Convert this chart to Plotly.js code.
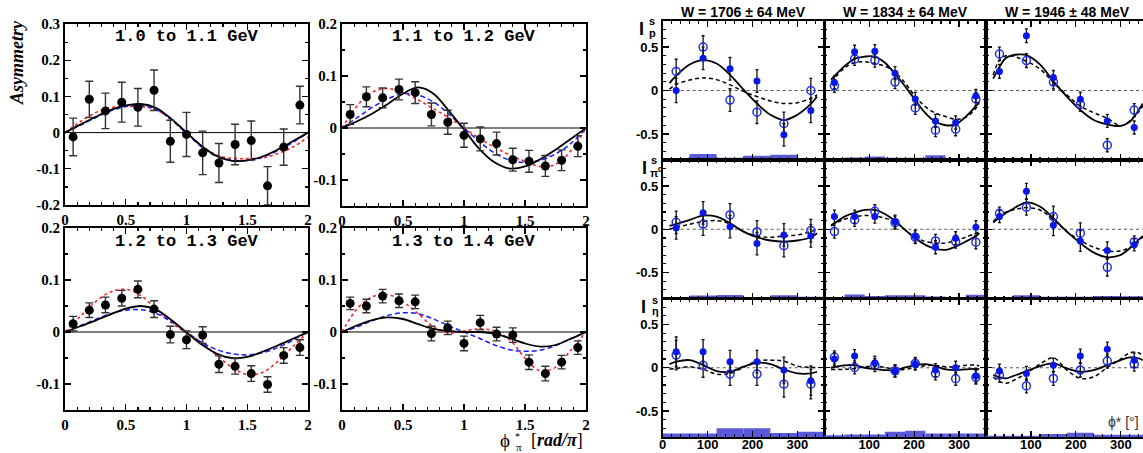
<!DOCTYPE html>
<html>
<head>
<meta charset="utf-8">
<script src="https://cdn.plot.ly/plotly-3.0.1.min.js"></script>
<style>
  html, body { margin: 0; padding: 0; background: #fff; }
  #chart { width: 1143px; height: 453px; }
</style>
</head>
<body>
<div id="chart"></div>
<script>
// ===== Left block: beam asymmetry vs phi*_pi, four energy bins =====
const energyLabels = ['1.0 to 1.1 GeV', '1.1 to 1.2 GeV', '1.2 to 1.3 GeV', '1.3 to 1.4 GeV'];
const phiPi = [0.067, 0.2, 0.333, 0.467, 0.6, 0.733, 0.867, 1.0, 1.133, 1.267, 1.4, 1.533, 1.667, 1.8, 1.933];

const asym1 = [-0.012, 0.092, 0.060, 0.084, 0.070, 0.117, -0.024, -0.005, -0.056, -0.084, -0.033, -0.022, -0.147, -0.040, 0.076];
const err1  = [0.052, 0.050, 0.049, 0.055, 0.052, 0.056, 0.058, 0.061, 0.060, 0.054, 0.056, 0.054, 0.053, 0.050, 0.052];
const asym2 = [0.026, 0.060, 0.058, 0.074, 0.068, 0.026, 0.011, -0.014, -0.021, -0.030, -0.061, -0.064, -0.073, -0.062, -0.035];
const err2  = [0.019, 0.019, 0.019, 0.020, 0.021, 0.022, 0.023, 0.023, 0.023, 0.022, 0.022, 0.021, 0.020, 0.020, 0.020];
const asym3 = [0.016, 0.042, 0.052, 0.065, 0.082, 0.044, -0.005, -0.015, -0.006, -0.062, -0.066, -0.080, -0.101, -0.045, -0.030];
const err3  = [0.014, 0.014, 0.015, 0.015, 0.016, 0.016, 0.016, 0.017, 0.016, 0.016, 0.015, 0.015, 0.015, 0.015, 0.015];
const asym4 = [0.055, 0.050, 0.069, 0.060, 0.058, -0.003, 0.008, -0.022, 0.018, -0.004, -0.006, -0.058, -0.080, -0.058, -0.030];
const err4  = [0.012, 0.013, 0.013, 0.013, 0.013, 0.014, 0.013, 0.014, 0.014, 0.013, 0.014, 0.014, 0.014, 0.013, 0.013];

// model curves, sampled on a common phi grid
const modelPhi = [0, 0.125, 0.25, 0.375, 0.5, 0.625, 0.75, 0.875, 1, 1.125, 1.25, 1.375, 1.5, 1.625, 1.75, 1.875, 2];
const solid1  = [0, 0.022, 0.043, 0.062, 0.075, 0.079, 0.068, 0.038, 0, -0.037, -0.065, -0.078, -0.077, -0.066, -0.047, -0.024, 0];
const dashed1 = [0, 0.020, 0.041, 0.060, 0.072, 0.075, 0.064, 0.035, -0.002, -0.040, -0.066, -0.076, -0.077, -0.068, -0.050, -0.027, 0];
const dotted1 = [0, 0.030, 0.055, 0.069, 0.072, 0.072, 0.063, 0.037, 0, -0.037, -0.062, -0.071, -0.072, -0.070, -0.058, -0.040, -0.012];
const solid2  = [0, 0.013, 0.028, 0.046, 0.066, 0.078, 0.066, 0.033, -0.003, -0.040, -0.066, -0.078, -0.074, -0.060, -0.042, -0.021, 0];
const dashed2 = [0, 0.020, 0.040, 0.056, 0.066, 0.063, 0.050, 0.027, 0, -0.026, -0.048, -0.062, -0.066, -0.062, -0.050, -0.030, 0];
const dotted2 = [0, 0.043, 0.069, 0.076, 0.068, 0.054, 0.037, 0.020, 0, -0.020, -0.037, -0.052, -0.064, -0.074, -0.070, -0.044, 0];
const solid3  = [0, 0.011, 0.022, 0.034, 0.045, 0.050, 0.043, 0.023, -0.001, -0.024, -0.042, -0.050, -0.048, -0.038, -0.026, -0.013, 0];
const dashed3 = [0, 0.012, 0.024, 0.035, 0.042, 0.043, 0.036, 0.020, 0, -0.020, -0.034, -0.042, -0.044, -0.040, -0.030, -0.016, 0];
const dotted3 = [0, 0.030, 0.058, 0.077, 0.082, 0.070, 0.044, 0.018, -0.002, -0.020, -0.045, -0.068, -0.082, -0.078, -0.057, -0.028, 0];
const solid4  = [0, 0.013, 0.023, 0.028, 0.025, 0.015, 0.006, 0.002, 0, 0, -0.003, -0.012, -0.022, -0.028, -0.025, -0.013, 0];
const dashed4 = [0, 0.010, 0.022, 0.032, 0.037, 0.035, 0.025, 0.012, 0, -0.012, -0.025, -0.034, -0.037, -0.035, -0.026, -0.013, 0];
const dotted4 = [0, 0.045, 0.068, 0.072, 0.058, 0.035, 0.010, -0.002, 0.002, 0.006, 0.002, -0.015, -0.050, -0.075, -0.068, -0.035, 0];

// ===== Right block: I^s for p, pi0 and eta in three W bins =====
const wLabels = ['W = 1706 \u00b1 64 MeV', 'W = 1834 \u00b1 64 MeV', 'W = 1946 \u00b1 48 MeV'];
const phi6 = [30, 90, 150, 210, 270, 330];
const phi8 = [22.5, 67.5, 112.5, 157.5, 202.5, 247.5, 292.5, 337.5];
const curvePhiA = [15, 30, 60, 90, 120, 150, 180, 210, 240, 270, 300, 330, 344];
const curvePhiB = [15, 45, 67.5, 90, 112.5, 135, 157.5, 180, 202.5, 225, 247.5, 270, 292.5, 315, 337.5, 345];
const curvePhiC = [16, 31, 45, 60, 75, 90, 120, 150, 180, 210, 240, 270, 300, 320, 340, 349];

// proton
const p1706Filled = [0.0, 0.37, 0.25, 0.11, -0.51, -0.23];
const p1706Open   = [0.22, 0.50, -0.11, -0.25, -0.38, 0.0];
const p1706Err    = [0.14, 0.13, 0.13, 0.13, 0.13, 0.14];
const p1706Solid  = [0.085, 0.17, 0.30, 0.35, 0.31, 0.18, 0.01, -0.15, -0.28, -0.34, -0.28, -0.155, -0.07];
const p1706Dashed = [0.015, 0.07, 0.12, 0.145, 0.125, 0.065, -0.01, -0.07, -0.12, -0.15, -0.14, -0.09, -0.05];
const p1706Sys    = [0.015, 0.07, 0.027, 0.05, 0.06, 0.023];

const p1834Filled = [0.093, 0.446, 0.453, 0.20, -0.097, -0.35, -0.368, -0.062];
const p1834Open   = [0.054, 0.364, 0.345, 0.097, -0.20, -0.457, -0.446, -0.097];
const p1834Err    = [0.075, 0.075, 0.075, 0.075, 0.075, 0.075, 0.075, 0.075];
const p1834Solid  = [0.124, 0.28, 0.364, 0.39, 0.39, 0.32, 0.19, 0.047, -0.11, -0.26, -0.36, -0.40, -0.39, -0.30, -0.18, -0.13];
const p1834Dashed = [0.093, 0.26, 0.32, 0.33, 0.31, 0.28, 0.21, 0.085, -0.07, -0.186, -0.26, -0.30, -0.33, -0.31, -0.205, -0.147];
const p1834Sys    = [0.015, 0.03, 0.04, 0.027, 0.027, 0.055, 0.015, 0.015];

const p1946Filled = [0.22, 0.63, 0.15, -0.10, -0.35, -0.426];
const p1946Open   = [0.42, 0.345, 0.097, -0.16, -0.63, -0.225];
const p1946Err    = [0.08, 0.08, 0.08, 0.08, 0.075, 0.075];
const p1946Solid  = [0.136, 0.28, 0.376, 0.407, 0.415, 0.407, 0.30, 0.105, -0.07, -0.225, -0.34, -0.39, -0.407, -0.36, -0.225, -0.15];
const p1946Dashed = [0.18, 0.357, 0.40, 0.395, 0.37, 0.337, 0.248, 0.093, -0.05, -0.178, -0.256, -0.32, -0.407, -0.35, -0.244, -0.178];
const p1946Sys    = [0.008, 0.008, 0.008, 0.008, 0.02, 0.008];

// pi0
const pi1706Filled = [0.015, 0.19, 0.03, -0.165, -0.065, -0.077];
const pi1706Open   = [0.08, 0.06, 0.165, -0.03, -0.19, -0.015];
const pi1706Err    = [0.13, 0.13, 0.13, 0.13, 0.13, 0.13];
const pi1706Solid  = [0.04, 0.06, 0.108, 0.158, 0.146, 0.07, -0.027, -0.092, -0.13, -0.142, -0.13, -0.092, -0.046];
const pi1706Dashed = [0.004, 0.02, 0.058, 0.088, 0.10, 0.062, -0.027, -0.077, -0.092, -0.077, -0.065, -0.027, -0.008];
const pi1706Sys    = [0.015, 0.035, 0.04, 0.012, 0.038, 0.02];

const pi1834Filled = [0.146, 0.146, 0.146, 0.088, -0.085, -0.208, -0.104, 0.023];
const pi1834Open   = [-0.027, 0.108, 0.208, 0.077, -0.092, -0.135, -0.142, -0.15];
const pi1834Err    = [0.075, 0.075, 0.075, 0.075, 0.075, 0.075, 0.075, 0.075];
const pi1834Solid  = [0.038, 0.146, 0.19, 0.223, 0.223, 0.177, 0.096, -0.008, -0.104, -0.18, -0.227, -0.238, -0.2, -0.142, -0.077, -0.046];
const pi1834Dashed = [0.05, 0.115, 0.146, 0.158, 0.154, 0.127, 0.088, -0.008, -0.092, -0.142, -0.16, -0.16, -0.13, -0.092, -0.046, -0.027];
const pi1834Sys    = [0.012, 0.045, 0.03, 0.038, 0.038, 0.023, 0.012, 0.042];

const pi1946Filled = [0.146, 0.44, 0.046, -0.135, -0.246, -0.18];
const pi1946Open   = [0.185, 0.254, 0.146, -0.046, -0.44, -0.146];
const pi1946Err    = [0.07, 0.09, 0.12, 0.12, 0.10, 0.07];
const pi1946Solid  = [0.077, 0.138, 0.19, 0.235, 0.28, 0.31, 0.262, 0.127, -0.027, -0.16, -0.27, -0.323, -0.296, -0.22, -0.12, -0.077];
const pi1946Dashed = [0.088, 0.165, 0.20, 0.223, 0.24, 0.25, 0.223, 0.108, -0.027, -0.13, -0.208, -0.25, -0.25, -0.21, -0.13, -0.092];
const pi1946Sys    = [0.012, 0.038, 0.02, 0.02, 0.03, 0.025];

// eta
const eta1706Filled = [0.185, 0.185, 0.07, 0.07, -0.027, -0.15];
const eta1706Open   = [0.146, 0.03, -0.073, -0.073, -0.19, -0.19];
const eta1706Err    = [0.17, 0.14, 0.13, 0.13, 0.15, 0.17];
const eta1706Solid  = [0.042, 0.07, 0.088, 0.03, -0.038, -0.046, 0.012, 0.058, 0.042, -0.019, -0.065, -0.065, -0.046];
const eta1706Dashed = [-0.015, -0.008, 0.012, -0.019, -0.073, -0.065, 0.004, 0.077, 0.088, 0.077, 0.019, 0.004, 0.004];
const eta1706Sys    = [0.04, 0.04, 0.10, 0.10, 0.047, 0.06];

const eta1834Filled = [0.10, 0.135, 0.058, -0.038, 0.042, -0.027, 0.0, -0.096];
const eta1834Open   = [0.12, 0.004, 0.03, -0.035, 0.05, -0.065, -0.127, -0.11];
const eta1834Err    = [0.075, 0.075, 0.075, 0.07, 0.07, 0.075, 0.075, 0.08];
const eta1834Solid  = [0, 0.027, 0.03, 0, -0.015, -0.027, -0.027, 0.004, 0.03, 0.042, 0.019, -0.019, -0.027, -0.019, -0.012, -0.015];
const eta1834Dashed = [-0.019, -0.019, -0.008, 0.012, 0.019, 0.004, -0.019, -0.019, 0.004, 0.023, 0.027, 0.012, 0.012, 0.03, 0.03, 0.019];
const eta1834Sys    = [0.02, 0.03, 0.03, 0.06, 0.073, 0.04, 0.04, 0.04];

const eta1946Filled = [-0.038, -0.065, 0.03, 0.135, 0.215, 0.088];
const eta1946Open   = [-0.085, -0.21, -0.123, -0.027, 0.077, 0.042];
const eta1946Err    = [0.08, 0.08, 0.08, 0.08, 0.08, 0.08];
const eta1946Solid  = [-0.085, -0.11, -0.123, -0.096, -0.07, -0.038, 0.019, 0.05, -0.008, -0.046, -0.027, 0.03, 0.088, 0.12, 0.108, 0.088];
const eta1946Dashed = [-0.11, -0.16, -0.18, -0.15, -0.11, -0.065, 0.042, 0.115, -0.027, -0.123, -0.104, 0.004, 0.10, 0.173, 0.173, 0.127];
const eta1946Sys    = [0.015, 0.015, 0.035, 0.05, 0.027, 0.027];

// ===== page geometry =====
const W = 1143, H = 453;
const fx = px => px / W;
const fy = py => 1 - py / H;

const traces = [];
const shapes = [];
const annotations = [];
const layout = {
  width: W, height: H,
  margin: { l: 0, r: 0, t: 0, b: 0 },
  paper_bgcolor: '#ffffff',
  plot_bgcolor: 'rgba(0,0,0,0)',
  showlegend: false,
  shapes: shapes,
  annotations: annotations
};

const serifBold = { family: 'Liberation Serif, Times New Roman, serif', size: 15, color: '#000', weight: 'bold' };
const sansBold = { family: 'Liberation Sans, Arial, sans-serif', size: 13, color: '#000', weight: 'bold' };

function baseAxis() {
  return {
    showline: true, linecolor: '#000', linewidth: 2, mirror: 'allticks',
    ticks: 'inside', tickcolor: '#000', tickwidth: 1.2,
    showgrid: false, zeroline: false, fixedrange: true
  };
}

function note(text, px, py, font, extra) {
  annotations.push(Object.assign({
    text: text, xref: 'paper', yref: 'paper', x: fx(px), y: fy(py),
    xanchor: 'center', yanchor: 'middle', showarrow: false, font: font
  }, extra || {}));
}

// ----- left block -----
const leftPanels = [
  { n: 1, box: [65, 308, 24, 205], range: [-0.2, 0.3], yt: [-0.2, -0.1, 0, 0.1, 0.2, 0.3], y: asym1, e: err1, s: solid1, d: dashed1, o: dotted1, label: energyLabels[0] },
  { n: 2, box: [342, 586, 24, 206], range: [-0.15, 0.2], yt: [-0.1, 0, 0.1, 0.2], y: asym2, e: err2, s: solid2, d: dashed2, o: dotted2, label: energyLabels[1] },
  { n: 3, box: [65, 308, 228, 410], range: [-0.15, 0.2], yt: [-0.1, 0, 0.1, 0.2], y: asym3, e: err3, s: solid3, d: dashed3, o: dotted3, label: energyLabels[2] },
  { n: 4, box: [342, 586, 228, 410], range: [-0.15, 0.2], yt: [-0.1, 0, 0.1, 0.2], y: asym4, e: err4, s: solid4, d: dashed4, o: dotted4, label: energyLabels[3] }
];

leftPanels.forEach(p => {
  const xa = 'x' + p.n, ya = 'y' + p.n;
  const [x0, x1, y0, y1] = p.box;
  layout['xaxis' + p.n] = Object.assign(baseAxis(), {
    domain: [fx(x0), fx(x1)], anchor: ya, range: [0, 2],
    tickvals: [0, 0.5, 1, 1.5, 2], ticktext: ['0', '0.5', '1', '1.5', '2'],
    ticklen: 6, tickfont: serifBold,
    minor: { dtick: 0.1, ticks: 'inside', ticklen: 3, tickcolor: '#000' }
  });
  layout['yaxis' + p.n] = Object.assign(baseAxis(), {
    domain: [fy(y1), fy(y0)], anchor: xa, range: p.range,
    tickvals: p.yt, ticktext: p.yt.map(v => v === 0 ? '0' : v.toFixed(1)),
    ticklen: 6, tickfont: serifBold,
    minor: { dtick: 0.05, ticks: 'inside', ticklen: 3, tickcolor: '#000' }
  });
  shapes.push({ type: 'line', xref: xa + ' domain', yref: ya, x0: 0, x1: 1, y0: 0, y1: 0,
    line: { color: '#000', width: 1 }, layer: 'below' });

  traces.push({ x: modelPhi, y: p.o, xaxis: xa, yaxis: ya, mode: 'lines', hoverinfo: 'skip',
    line: { color: '#ff2020', width: 1.6, dash: 'dot', shape: 'spline' } });
  traces.push({ x: modelPhi, y: p.d, xaxis: xa, yaxis: ya, mode: 'lines', hoverinfo: 'skip',
    line: { color: '#1a1aff', width: 1.5, dash: '5px,3px', shape: 'spline' } });
  traces.push({ x: modelPhi, y: p.s, xaxis: xa, yaxis: ya, mode: 'lines', hoverinfo: 'skip',
    line: { color: '#000', width: 1.8, shape: 'spline' } });
  traces.push({ x: phiPi, y: p.y, xaxis: xa, yaxis: ya, mode: 'markers',
    marker: { color: '#000', size: 9 },
    error_y: { type: 'data', array: p.e, color: '#333', thickness: 1.4, width: 4 } });

  note('<b>' + p.label + '</b>', (x0 + x1) / 2, y0 + 13,
    { family: 'Liberation Mono, Courier New, monospace', size: 17, color: '#000' });
});

// left axis titles
const tight = { borderpad: 0 };
note('<b><i>Asymmetry</i></b>', 17, 63, { family: 'Liberation Serif, Times New Roman, serif', size: 18, color: '#000' }, { textangle: -90 });
note('\u03d5', 505, 440, { family: 'Liberation Serif, Times New Roman, serif', size: 19, color: '#000' }, tight);
note('*', 517, 436, { family: 'Liberation Serif, serif', size: 10, color: '#000' }, tight);
note('\u03c0', 519, 447, { family: 'Liberation Serif, serif', size: 11, color: '#000' }, tight);
note('[<b><i>rad/\u03c0</i></b>]', 557, 440, { family: 'Liberation Serif, Times New Roman, serif', size: 18, color: '#000' }, tight);

// ----- right block -----
const cols = [
  { x0: 662.7, x1: 824.3, range: [0, 360], xt: [0, 100, 200, 300], center: 743.5 },
  { x0: 824.3, x1: 986, range: [0, 360], xt: [100, 200, 300], center: 905 },
  { x0: 986, x1: 1143, range: [0, 349.5], xt: [100, 200, 300], center: 1067 }
];
const rows = [
  { y0: 21, y1: 160 },
  { y0: 160, y1: 298.5 },
  { y0: 298.5, y1: 437 }
];
const cells = [
  [ { pts: phi6, cx: curvePhiA, f: p1706Filled, o: p1706Open, e: p1706Err, s: p1706Solid, d: p1706Dashed, sys: p1706Sys, bw: 60 },
    { pts: phi8, cx: curvePhiB, f: p1834Filled, o: p1834Open, e: p1834Err, s: p1834Solid, d: p1834Dashed, sys: p1834Sys, bw: 45 },
    { pts: phi6, cx: curvePhiC, f: p1946Filled, o: p1946Open, e: p1946Err, s: p1946Solid, d: p1946Dashed, sys: p1946Sys, bw: 60 } ],
  [ { pts: phi6, cx: curvePhiA, f: pi1706Filled, o: pi1706Open, e: pi1706Err, s: pi1706Solid, d: pi1706Dashed, sys: pi1706Sys, bw: 60 },
    { pts: phi8, cx: curvePhiB, f: pi1834Filled, o: pi1834Open, e: pi1834Err, s: pi1834Solid, d: pi1834Dashed, sys: pi1834Sys, bw: 45 },
    { pts: phi6, cx: curvePhiC, f: pi1946Filled, o: pi1946Open, e: pi1946Err, s: pi1946Solid, d: pi1946Dashed, sys: pi1946Sys, bw: 60 } ],
  [ { pts: phi6, cx: curvePhiA, f: eta1706Filled, o: eta1706Open, e: eta1706Err, s: eta1706Solid, d: eta1706Dashed, sys: eta1706Sys, bw: 60 },
    { pts: phi8, cx: curvePhiB, f: eta1834Filled, o: eta1834Open, e: eta1834Err, s: eta1834Solid, d: eta1834Dashed, sys: eta1834Sys, bw: 45 },
    { pts: phi6, cx: curvePhiC, f: eta1946Filled, o: eta1946Open, e: eta1946Err, s: eta1946Solid, d: eta1946Dashed, sys: eta1946Sys, bw: 60 } ]
];

const yFloor = -0.8;
rows.forEach((r, ri) => {
  cols.forEach((c, ci) => {
    const n = 5 + ri * 3 + ci;
    const xa = 'x' + n, ya = 'y' + n;
    const cell = cells[ri][ci];
    layout['xaxis' + n] = Object.assign(baseAxis(), {
      domain: [fx(c.x0), fx(c.x1)], anchor: ya, range: c.range, linewidth: 1.8,
      tickvals: c.xt, ticktext: c.xt.map(String), ticklen: 6,
      showticklabels: ri === 2, tickfont: sansBold, ticklabelstandoff: -5,
      minor: { dtick: 20, ticks: 'inside', ticklen: 3, tickcolor: '#000' }
    });
    layout['yaxis' + n] = Object.assign(baseAxis(), {
      domain: [fy(r.y1), fy(r.y0)], anchor: xa, range: [yFloor, 0.8], linewidth: 1.8,
      mirror: ci === 2 ? false : 'allticks',
      tickvals: [-0.5, 0, 0.5], ticktext: ['-0.5', '0', '0.5'], ticklen: 6,
      showticklabels: ci === 0, tickfont: sansBold,
      minor: { dtick: 0.1, ticks: 'inside', ticklen: 3, tickcolor: '#000' }
    });
    shapes.push({ type: 'line', xref: xa + ' domain', yref: ya, x0: 0, x1: 1, y0: 0, y1: 0,
      line: { color: '#555', width: 1, dash: 'dot' }, layer: 'below' });

    traces.push({ type: 'bar', x: cell.pts, y: cell.sys, base: yFloor, width: cell.bw,
      xaxis: xa, yaxis: ya, marker: { color: '#5a5ad8', line: { width: 0 } }, hoverinfo: 'skip' });
    traces.push({ x: cell.cx, y: cell.d, xaxis: xa, yaxis: ya, mode: 'lines', hoverinfo: 'skip',
      line: { color: '#000', width: 1.5, dash: '4px,3px', shape: 'spline' } });
    traces.push({ x: cell.cx, y: cell.s, xaxis: xa, yaxis: ya, mode: 'lines', hoverinfo: 'skip',
      line: { color: '#000', width: 1.8, shape: 'spline' } });
    traces.push({ x: cell.pts, y: cell.o, xaxis: xa, yaxis: ya, mode: 'markers',
      marker: { symbol: 'circle-open', color: '#1f2ff0', size: 8, line: { width: 1.5, color: '#1f2ff0' } },
      error_y: { type: 'data', array: cell.e, color: '#111', thickness: 1.3, width: 1.5 } });
    traces.push({ x: cell.pts, y: cell.f, xaxis: xa, yaxis: ya, mode: 'markers',
      marker: { color: '#0a18e6', size: 7 },
      error_y: { type: 'data', array: cell.e, color: '#111', thickness: 1.3, width: 1.5 } });
  });
});

// column headers
cols.forEach((c, ci) => note('<b>' + wLabels[ci] + '</b>', c.center, 12,
  { family: 'Liberation Sans, Arial, sans-serif', size: 14, color: '#000' }));

// row labels: I with stacked superscript s and subscript observable
const bigI = { family: 'Liberation Sans, Arial, sans-serif', size: 18, color: '#000', weight: 'bold' };
const small = { family: 'Liberation Sans, Arial, sans-serif', size: 11, color: '#000', weight: 'bold' };
note('<b>I</b>', 641, 29, bigI, tight);
note('<b>s</b>', 652, 21, small, tight);
note('<b>p</b>', 652, 33, small, tight);
note('<b>I</b>', 644, 168, bigI, tight);
note('<b>s</b>', 654, 160, small, tight);
note('<b>\u03c0</b>', 654, 173, small, tight);
note('<b>0</b>', 660, 169, { family: 'Liberation Sans, Arial, sans-serif', size: 8, color: '#000' }, tight);
note('<b>I</b>', 643, 307, bigI, tight);
note('<b>s</b>', 655, 300, small, tight);
note('<b>\u03b7</b>', 655, 311, small, tight);

// azimuth axis label
note('\u03d5* [\u00b0]', 1123, 422, { family: 'Liberation Sans, Arial, sans-serif', size: 14, color: '#333' });

Plotly.newPlot('chart', traces, layout, { staticPlot: true, displayModeBar: false });
</script>
</body>
</html>
